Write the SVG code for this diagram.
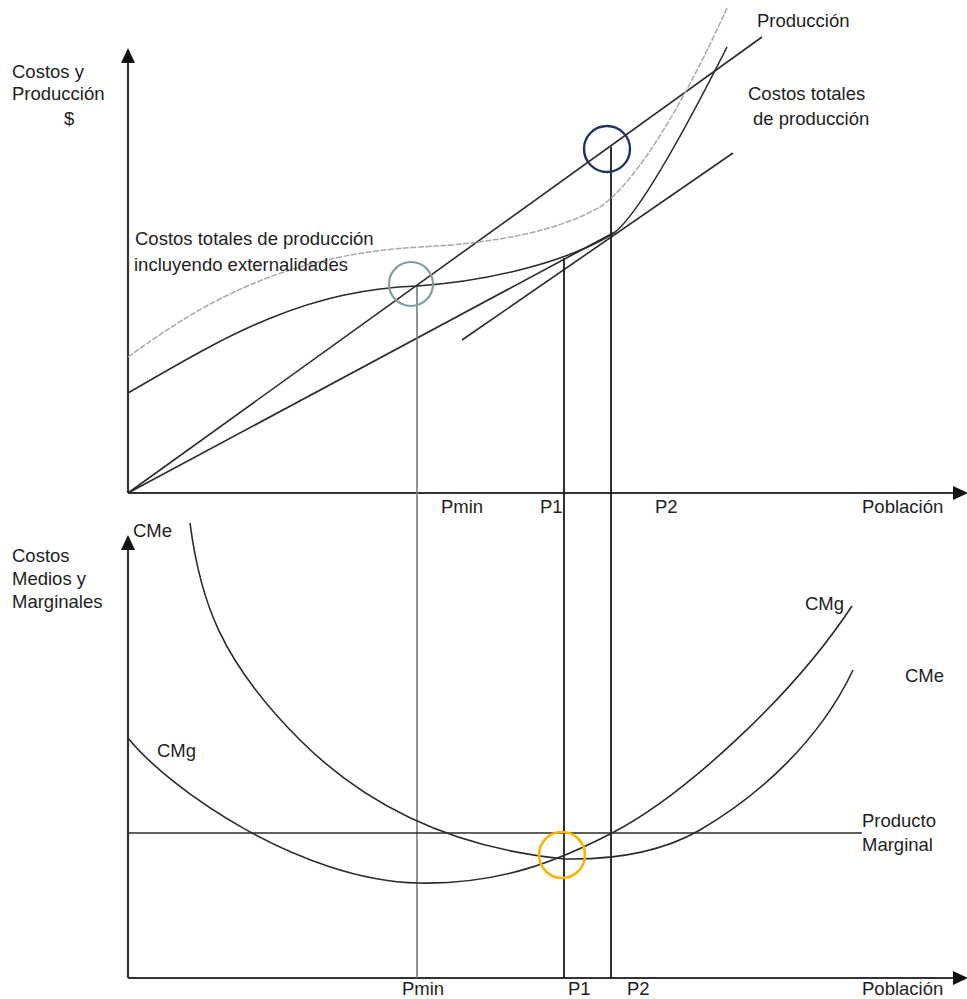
<svg xmlns="http://www.w3.org/2000/svg" width="967" height="999" viewBox="0 0 967 999">
<style>
text{font-family:"Liberation Sans",Arial,sans-serif;font-size:18.5px;fill:#1e1e1e}
.ax{stroke:#333;stroke-width:2.2;fill:none}
.cv{stroke:#2a2a2a;stroke-width:1.6;fill:none}
.ext{stroke:#a8a8a8;stroke-width:1.5;fill:none;stroke-dasharray:6 1.5}
.vg{stroke:#7a7a7a;stroke-width:1.6}
.vb{stroke:#1a1a1a;stroke-width:1.8}
.arr{fill:#111}
</style>
<rect width="967" height="999" fill="#fff"/>
<g id="axes">
<line class="ax" x1="128" y1="60" x2="128" y2="493"/>
<polygon class="arr" points="128,48 121,63 135,63"/>
<line class="ax" x1="128" y1="493" x2="955" y2="493"/>
<polygon class="arr" points="968,493 953,486 953,500"/>
<line class="ax" x1="128" y1="548" x2="128" y2="978"/>
<polygon class="arr" points="128,535 121,550 135,550"/>
<line class="ax" x1="128" y1="978" x2="955" y2="978"/>
<polygon class="arr" points="968,978 953,971 953,985"/>
</g>
<g id="connectors">
<line class="cv" x1="128" y1="493" x2="762" y2="37"/>
<line class="cv" x1="128" y1="493" x2="615" y2="232"/>
<line class="cv" x1="462" y1="340" x2="733" y2="153"/>
<line class="vg" x1="417" y1="286" x2="417" y2="978"/>
<line class="vb" x1="564" y1="258" x2="564" y2="978"/>
<line class="vb" x1="611" y1="147" x2="611" y2="978"/>
<line class="cv" x1="128" y1="833" x2="862" y2="833"/>
</g>
<g id="curve-ext">
<path class="ext" d="M128,357 C200,305 280,255 420,247 C500,243 560,230 600,207 C640,180 690,90 727,8"/>
</g>
<g id="curve-cost">
<path class="cv" d="M128,393 C220,340 300,290 417,286 C480,282 560,265 611,235 C635,221 680,140 727,47"/>
</g>
<g id="curve-cme">
<path class="cv" d="M190,523 C200,600 220,660 300,740 C340,780 420,845 565,859 C620,860 665,850 700,830 C760,795 820,740 853,670"/>
</g>
<g id="curve-cmg">
<path class="cv" d="M128,738 C170,790 300,880 418,883 C500,885 560,860 612,833 C680,798 790,700 852,606"/>
</g>
<g id="circles">
<circle cx="411" cy="284" r="22" fill="none" stroke="#7f9e9e" stroke-width="2.2"/>
<circle cx="607" cy="149" r="23" fill="none" stroke="#1f3462" stroke-width="2.4"/>
<circle cx="562" cy="855" r="23" fill="none" stroke="#f6b800" stroke-width="2.6"/>
</g>
<g id="labels-top">
<text x="12" y="78">Costos y</text>
<text x="12" y="100">Producción</text>
<text x="64" y="125">$</text>
<text x="757" y="27">Producción</text>
<text x="748" y="100">Costos totales</text>
<text x="753" y="125">de producción</text>
<text x="135" y="245">Costos totales de producción</text>
<text x="134" y="271">incluyendo externalidades</text>
<text x="441" y="513">Pmin</text>
<text x="540" y="513">P1</text>
<text x="655" y="513">P2</text>
<text x="862" y="513">Población</text>
</g>
<g id="labels-bottom">
<text x="133" y="537">CMe</text>
<text x="12" y="562">Costos</text>
<text x="12" y="585">Medios y</text>
<text x="12" y="608">Marginales</text>
<text x="157" y="757">CMg</text>
<text x="805" y="610">CMg</text>
<text x="905" y="682">CMe</text>
<text x="862" y="827">Producto</text>
<text x="862" y="851">Marginal</text>
<text x="402" y="995">Pmin</text>
<text x="568" y="995">P1</text>
<text x="627" y="995">P2</text>
<text x="862" y="995">Población</text>
</g>
</svg>
